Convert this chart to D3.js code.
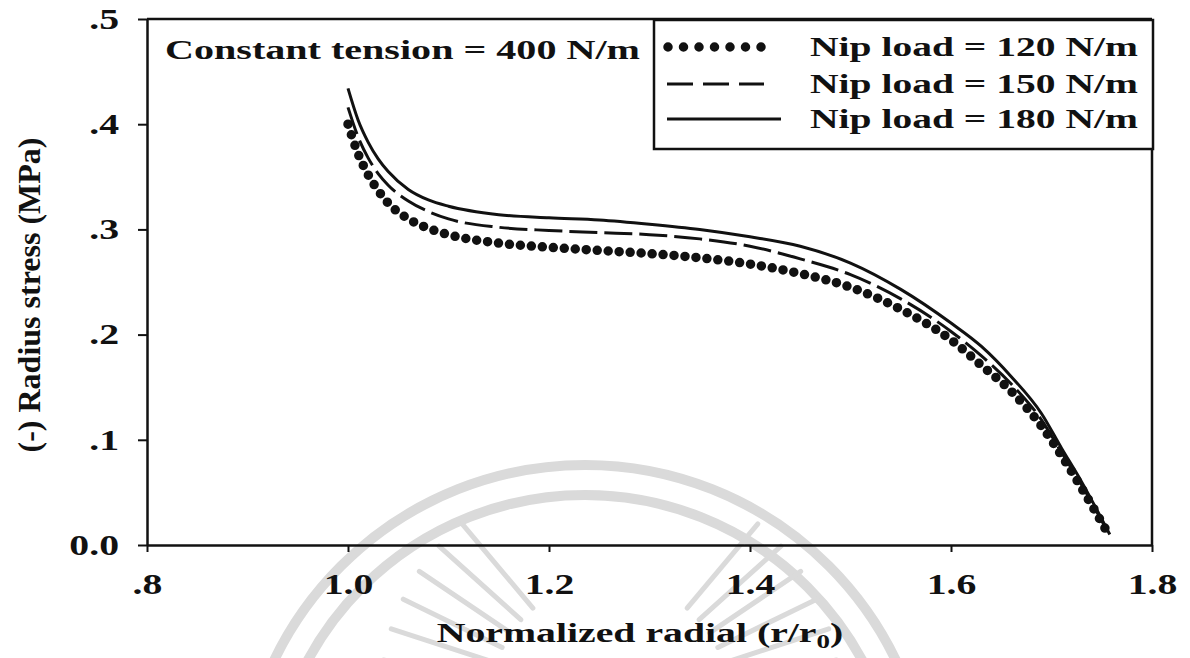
<!DOCTYPE html>
<html>
<head>
<meta charset="utf-8">
<script src="https://cdn.jsdelivr.net/npm/d3@7"></script>
<style>
  html, body { margin: 0; padding: 0; background: #fff; }
  svg { display: block; }
  text { font-family: "Liberation Serif", "Times New Roman", serif; font-weight: bold; fill: #111; }
</style>
</head>
<body>
<svg id="chart" width="1190" height="658"></svg>
<script>
// Normalized radial position r/r0
const radial = [1.00, 1.01, 1.02, 1.03, 1.04, 1.06, 1.08, 1.10, 1.15, 1.20, 1.25, 1.30,
                1.35, 1.40, 1.45, 1.50, 1.55, 1.60, 1.63, 1.66, 1.69, 1.71, 1.73, 1.758];

// (-) radial stress in MPa for each nip load
const nip120 = [0.400, 0.372, 0.352, 0.337, 0.325, 0.310, 0.301, 0.295, 0.287, 0.283, 0.280, 0.277,
                0.273, 0.267, 0.258, 0.245, 0.224, 0.195, 0.171, 0.146, 0.113, 0.085, 0.054, 0.008];
const nip150 = [0.416, 0.388, 0.368, 0.353, 0.342, 0.327, 0.317, 0.310, 0.302, 0.299, 0.297, 0.295,
                0.291, 0.284, 0.272, 0.257, 0.234, 0.203, 0.180, 0.153, 0.119, 0.088, 0.057, 0.009];
const nip180 = [0.434, 0.404, 0.383, 0.367, 0.355, 0.338, 0.328, 0.322, 0.314, 0.311, 0.309, 0.305,
                0.300, 0.293, 0.284, 0.268, 0.243, 0.211, 0.189, 0.160, 0.125, 0.092, 0.060, 0.010];

const seriesNames = ["Nip load = 120 N/m", "Nip load = 150 N/m", "Nip load = 180 N/m"];
const seriesStyles = ["dots", "dash", "solid"];

const xTicks = [0.8, 1.0, 1.2, 1.4, 1.6, 1.8];
const xTickLabels = [".8", "1.0", "1.2", "1.4", "1.6", "1.8"];
const yTicks = [0.0, 0.1, 0.2, 0.3, 0.4, 0.5];
const yTickLabels = ["0.0", ".1", ".2", ".3", ".4", ".5"];

const titleText = "Constant tension = 400 N/m";
const yTitle = "(-) Radius stress (MPa)";

// ---------------------------------------------------------------
const plot = { left: 147, right: 1152, top: 19, bottom: 545 };
const stretch = 1.42;     // wide-set typeface
const tickStretch = 1.37;

const svg = d3.select("#chart");

const x = d3.scaleLinear().domain([0.8, 1.8]).range([plot.left, plot.right]);
const y = d3.scaleLinear().domain([0, 0.5]).range([plot.bottom, plot.top]);

// faint seal watermark behind the plot
const wm = svg.append("g").attr("fill", "none").attr("stroke", "#dadada").attr("stroke-linecap", "round");
const ring = { cx: 585, cy: 810 };
[345, 315].forEach(r => {
  wm.append("path")
    .attr("d", d3.arc()({ innerRadius: r, outerRadius: r, startAngle: -Math.PI * 0.5, endAngle: Math.PI * 0.5 }))
    .attr("transform", `translate(${ring.cx},${ring.cy})`)
    .attr("stroke-width", 10);
});
const rays = { cx: 610, cy: 700 };
d3.range(-80, 81, 8).forEach(a => {
  if (Math.abs(a) < 38) return;
  const t = (a - 90) * Math.PI / 180;
  wm.append("line")
    .attr("x1", rays.cx + 120 * Math.cos(t)).attr("y1", rays.cy + 120 * Math.sin(t))
    .attr("x2", rays.cx + 230 * Math.cos(t)).attr("y2", rays.cy + 230 * Math.sin(t))
    .attr("stroke-width", 5);
});

// axes
const xAxis = d3.axisBottom(x).tickValues(xTicks).tickFormat((d, i) => xTickLabels[i])
  .tickSizeInner(7).tickSizeOuter(0).tickPadding(21);
const yAxis = d3.axisLeft(y).tickValues(yTicks).tickFormat((d, i) => yTickLabels[i])
  .tickSizeInner(9).tickSizeOuter(0).tickPadding(19);

const gx = svg.append("g").attr("transform", `translate(0,${plot.bottom})`).call(xAxis);
const gy = svg.append("g").attr("transform", `translate(${plot.left},0)`).call(yAxis);

[gx, gy].forEach(g => {
  g.select(".domain").attr("stroke", "#111").attr("stroke-width", 2.5);
  g.selectAll(".tick line").attr("stroke", "#111").attr("stroke-width", 2);
  g.selectAll(".tick text").attr("font-size", 29).attr("fill", "#111")
    .attr("font-family", "Liberation Serif").attr("font-weight", "bold");
});
gx.selectAll(".tick text").attr("transform", `scale(${tickStretch},1)`);
gy.selectAll(".tick text").each(function () {
  const t = d3.select(this);
  t.attr("x", +t.attr("x") / tickStretch).attr("transform", `scale(${tickStretch},1)`);
});

// frame top and right
svg.append("line").attr("x1", plot.left).attr("x2", plot.right).attr("y1", plot.top).attr("y2", plot.top)
  .attr("stroke", "#111").attr("stroke-width", 2.5);
svg.append("line").attr("x1", plot.right).attr("x2", plot.right).attr("y1", plot.top).attr("y2", plot.bottom)
  .attr("stroke", "#111").attr("stroke-width", 2.5);

// curves
const line = d3.line().x((d, i) => x(radial[i])).y(d => y(d)).curve(d3.curveMonotoneX);
const seriesData = [nip120, nip150, nip180];

function styleStroke(sel, kind, legend) {
  sel.attr("fill", "none").attr("stroke", "#111");
  if (kind === "dots") sel.attr("stroke-width", 9.5).attr("stroke-linecap", "round")
    .attr("stroke-dasharray", legend ? "0 15.5" : "0 11");
  else if (kind === "dash") sel.attr("stroke-width", 3).attr("stroke-dasharray", legend ? "26 10" : "28 7");
  else sel.attr("stroke-width", 3);
  return sel;
}

seriesData.forEach((vals, k) => {
  styleStroke(svg.append("path").attr("d", line(vals)), seriesStyles[k], false);
});

// title
svg.append("text").attr("transform", "translate(165,59) scale(1.485,1)")
  .attr("font-size", 27).text(titleText);

// legend
const lg = { x0: 654, y0: 20, x1: 1153, y1: 149 };
svg.append("rect").attr("x", lg.x0).attr("y", lg.y0).attr("width", lg.x1 - lg.x0).attr("height", lg.y1 - lg.y0)
  .attr("fill", "#fff").attr("stroke", "#111").attr("stroke-width", 2.5);
const rowY = [47, 84, 119];
const sampleStart = [668, 667, 667];
const sampleEnd = [764, 764, 781];
seriesNames.forEach((name, k) => {
  styleStroke(svg.append("path").attr("d", `M${sampleStart[k]},${rowY[k]}H${sampleEnd[k]}`), seriesStyles[k], true);
  svg.append("text").attr("transform", `translate(810,${rowY[k] + 9}) scale(1.465,1)`)
    .attr("font-size", 27).text(name);
});

// axis titles
const xt = svg.append("text").attr("transform", `translate(640,642) scale(${stretch},1)`)
  .attr("text-anchor", "middle").attr("font-size", 28);
xt.append("tspan").text("Normalized radial (r/r");
xt.append("tspan").attr("font-size", 19).attr("dy", 6).text("0");
xt.append("tspan").attr("dy", -6).text(")");

svg.append("text").attr("transform", "translate(40,295) rotate(-90)")
  .attr("text-anchor", "middle").attr("font-size", 32).text(yTitle);
</script>
</body>
</html>
